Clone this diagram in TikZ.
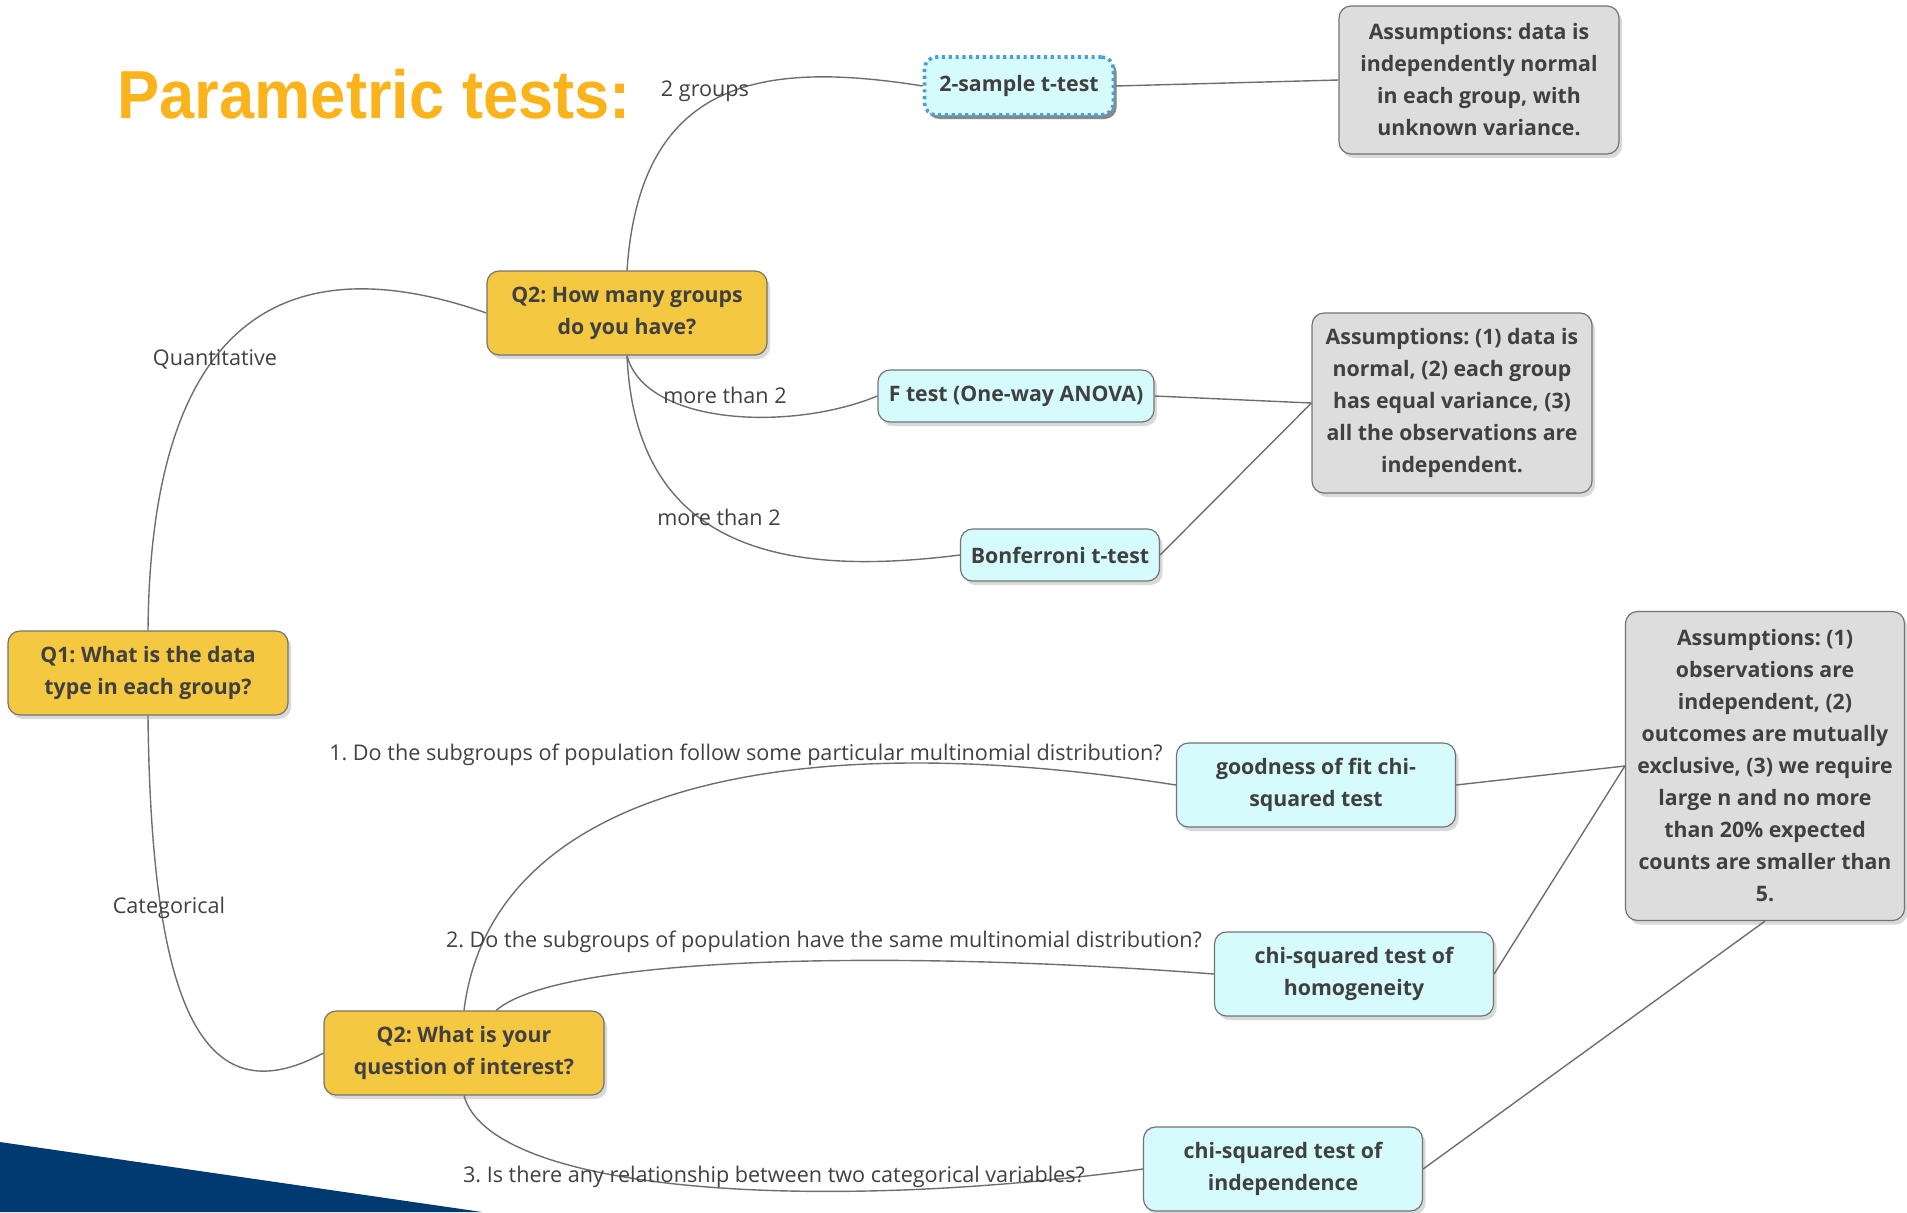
\documentclass[tikz,border=0pt]{standalone}
\usepackage{fontspec}
\setmainfont{Open Sans}
\newfontfamily\titlefont{Liberation Sans}
\usetikzlibrary{shadows}
\frenchspacing

\definecolor{qyellow}{HTML}{F5C842}
\definecolor{tcyan}{HTML}{D6FBFC}
\definecolor{agrey}{HTML}{DDDDDD}
\definecolor{linkgrey}{HTML}{6E6E6E}
\definecolor{txtgrey}{HTML}{404040}
\definecolor{dotblue}{HTML}{4B9FD6}
\definecolor{titleorange}{HTML}{FBB31B}
\definecolor{navy}{HTML}{003A70}

\begin{document}
\begin{tikzpicture}[x=0.5pt,y=-0.5pt,semithick]
        \tikzstyle{box}=[draw=black!55,line width=0.6pt,rounded corners=6pt,align=center,inner sep=0pt,
                         text=txtgrey,font=\bfseries\fontsize{10.65}{16}\selectfont,
                         drop shadow={shadow xshift=1.5pt,shadow yshift=-2pt,opacity=0.3}]
        \tikzstyle{question}=[box,fill=qyellow,minimum width=140pt,minimum height=42pt]
        \tikzstyle{test}=[box,fill=tcyan,minimum width=139.5pt,minimum height=42pt]
        \tikzstyle{assume}=[box,fill=agrey,minimum width=140pt]
        \tikzstyle{lbl}=[text=txtgrey,inner sep=0pt,font=\fontsize{10.8}{12}\selectfont]
        \tikzstyle{link}=[draw=linkgrey,line width=0.7pt]

        \useasboundingbox (0,0) rectangle (1907,1212);
        \fill[navy] (0,1142) -- (482,1212) -- (0,1212) -- cycle;

        \node[anchor=base west,inner sep=0pt,text=titleorange,font=\titlefont\bfseries\fontsize{34}{40}\selectfont]
              (title) at (117,118) {\scalebox{0.93}[1]{Parametric tests:}};

        % questions
        \node[question] (q1)  at (148,673)  {Q1: What is the data\\type in each group?};
        \node[question] (q2g) at (627,313)  {Q2: How many groups\\do you have?};
        \node[question] (q2i) at (464,1053) {Q2: What is your\\question of interest?};

        % tests
        \node[test,minimum width=94.5pt,minimum height=29pt,draw=dotblue,line width=1.8pt,
              dash pattern=on 1.6pt off 1.8pt,
              drop shadow={shadow xshift=1.6pt,shadow yshift=-2pt,opacity=0.9}]
                        (two) at (1019,86)  {2-sample t-test};
        \node[test,minimum width=138pt,minimum height=26pt]  (fte) at (1016,396) {F test (One-way ANOVA)};
        \node[test,minimum width=99.5pt,minimum height=26pt] (bon) at (1060,555) {Bonferroni t-test};
        \node[test] (gof) at (1316,785)  {goodness of fit chi-\\squared test};
        \node[test] (hom) at (1354,974)  {chi-squared test of\\homogeneity};
        \node[test] (ind) at (1283,1169) {chi-squared test of\\independence};

        % assumptions
        \node[assume,minimum height=74pt] (asm1) at (1479,80)
              {Assumptions: data is\\independently normal\\in each group, with\\unknown variance.};
        \node[assume,minimum height=90pt] (asm2) at (1452,403)
              {Assumptions: (1) data is\\normal, (2) each group\\has equal variance, (3)\\all the observations are\\independent.};
        \node[assume,minimum width=139.5pt,minimum height=154.5pt] (asm3) at (1765,766)
              {Assumptions: (1)\\observations are\\independent, (2)\\outcomes are mutually\\exclusive, (3) we require\\large n and no more\\than 20\% expected\\counts are smaller than\\5.};

        % branches
        \draw[link] (q1.north) .. controls (151,280) and (320,255) .. (q2g.west);
        \draw[link] (q1.south) .. controls (151,1000) and (200,1120) .. (q2i.west);
        \draw[link] (q2g.north) .. controls (640,80) and (760,60) .. (two.west);
        \draw[link] (q2g.south) .. controls (645,425) and (790,432) .. (fte.west);
        \draw[link] (q2g.south) .. controls (636,560) and (800,575) .. (bon.west);
        \draw[link] (q2i.north) .. controls (490,800) and (760,720) .. (gof.west);
        \draw[link] (q2i.53) .. controls (560,955) and (900,950) .. (hom.west);
        \draw[link] (q2i.south) .. controls (490,1190) and (800,1215) .. (ind.west);

        \draw[link] (two.east) -- (asm1.west);
        \draw[link] (fte.east) -- (asm2.west);
        \draw[link] (bon.east) -- (asm2.west);
        \draw[link] (gof.east) -- (asm3.west);
        \draw[link] (hom.east) -- (asm3.west);
        \draw[link] (ind.east) -- (asm3.south);

        % branch labels
        \node[lbl] (lquant) at (215,359) {Quantitative};
        \node[lbl] (lcat)   at (169,908) {Categorical};
        \node[lbl] (ltwo)   at (705,91)  {2 groups};
        \node[lbl] (lmore1) at (725,395) {more than 2};
        \node[lbl] (lmore2) at (719,517) {more than 2};
        \node[lbl] (lone)   at (746,755) {1. Do the subgroups of population follow some particular multinomial distribution?};
        \node[lbl] (lsame)  at (824,942) {2. Do the subgroups of population have the same multinomial distribution?};
        \node[lbl] (lrel)   at (774,1177) {3. Is there any relationship between two categorical variables?};
    \end{tikzpicture}
\end{document}
